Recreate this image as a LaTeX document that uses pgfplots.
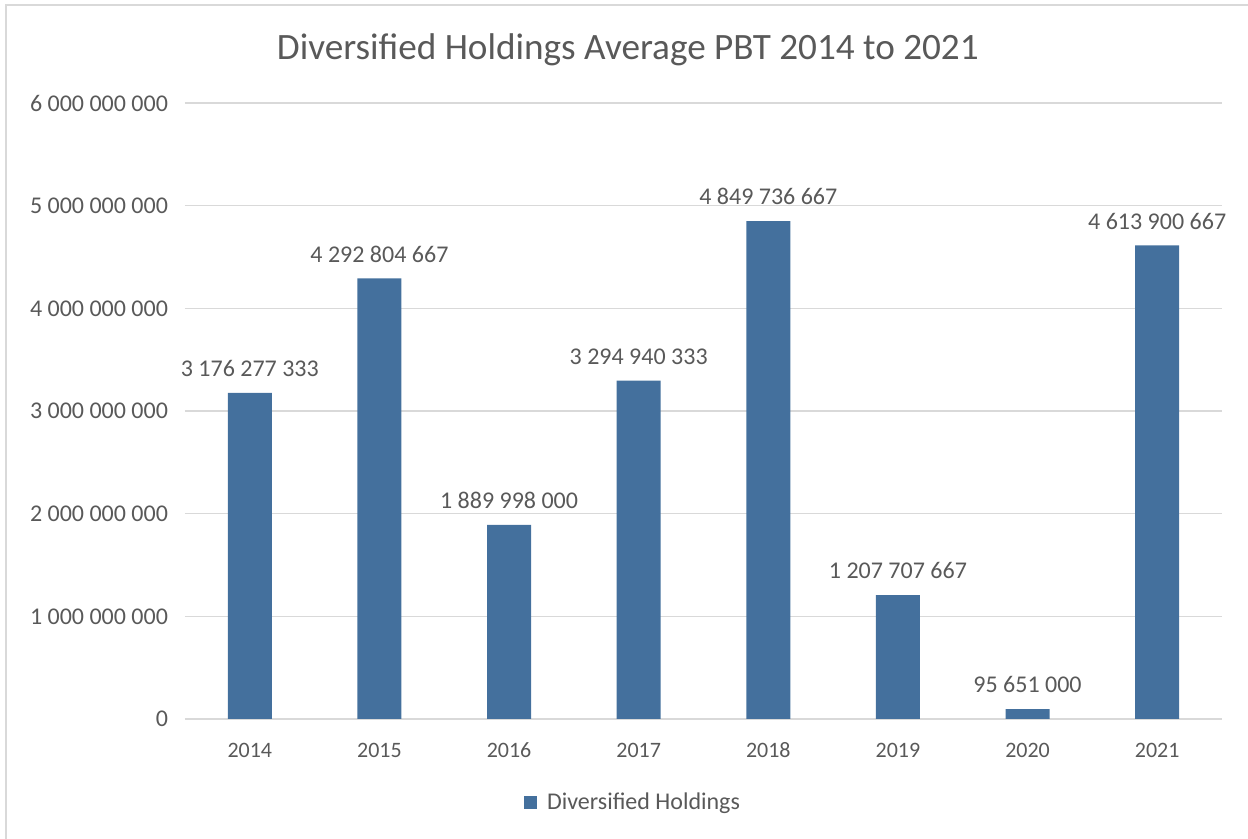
\documentclass[border=0pt]{standalone}
\usepackage{pgfplots}
\pgfplotsset{compat=1.18}
\usepackage{fontspec}
\setmainfont{Carlito}
\definecolor{barblue}{HTML}{44709D}
\definecolor{txtgray}{HTML}{595959}
\definecolor{gridgray}{HTML}{D9D9D9}
\begin{document}
\begin{tikzpicture}
\begin{axis}[
  at={(0,0)}, anchor=south west,
  scale only axis, width=518.5pt, height=308pt,
  xmin=-0.5, xmax=7.5, ymin=0, ymax=6000000000,
  ybar, bar width=22pt,
  axis lines*=left,
  x axis line style={gridgray, line width=0.8pt},
  y axis line style={draw=none},
  xtick={0,...,7},
  xticklabels={2014,2015,2016,2017,2018,2019,2020,2021},
  ytick={0,1000000000,2000000000,3000000000,4000000000,5000000000,6000000000},
  yticklabels={0,1 000 000 000,2 000 000 000,3 000 000 000,4 000 000 000,5 000 000 000,6 000 000 000},
  scaled y ticks=false,
  ymajorgrids, grid style={gridgray, line width=0.8pt},
  major tick length=0pt,
  tick label style={font=\fontsize{11}{13}\selectfont, text=txtgray},
  yticklabel style={font=\fontsize{12}{14}\selectfont, xshift=-5pt},
  xticklabel style={text height=7.5pt, text depth=0pt, yshift=-8pt},
  point meta=explicit symbolic,
  nodes near coords,
  nodes near coords style={font=\fontsize{12}{14}\selectfont, text=txtgray, yshift=4.5pt},
  legend style={at={(0.433,-0.136)}, anchor=center, draw=none,
    font=\fontsize{12}{14}\selectfont, text=txtgray},
  legend image code/.code={\fill[barblue] (0pt,-3.3pt) rectangle (6.5pt,3.3pt);},
  legend cell align=left,
  clip=false,
]
\addplot[fill=barblue, draw=none] coordinates {
  (0,3176277333) [3 176 277 333]
  (1,4292804667) [4 292 804 667]
  (2,1889998000) [1 889 998 000]
  (3,3294940333) [3 294 940 333]
  (4,4849736667) [4 849 736 667]
  (5,1207707667) [1 207 707 667]
  (6,95651000) [95 651 000]
  (7,4613900667) [4 613 900 667]
};
\addlegendentry{\hspace{3pt}Diversified Holdings}
\node[font=\fontsize{18.6}{22}\selectfont, text=txtgray] at (axis description cs:0.427,1.086) {Diversified Holdings Average PBT 2014 to 2021};
\end{axis}
\draw[gridgray, line width=0.8pt] (-89.5pt,-70pt) -- (-89.5pt,357pt) -- (540pt,357pt);
\pgfresetboundingbox
\path (-92.5pt,-60pt) rectangle (531.5pt,359.5pt);
\end{tikzpicture}
\end{document}
